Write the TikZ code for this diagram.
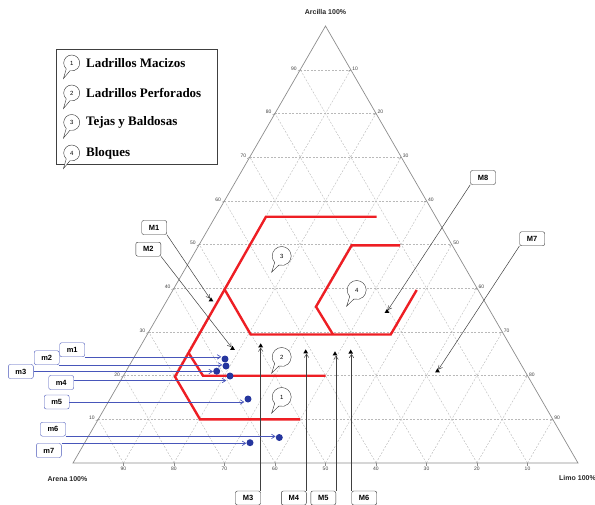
\documentclass[tikz,border=0pt]{standalone}
\usepackage{fontspec}
\setmainfont{Liberation Sans}
\newfontfamily\legfont{Liberation Serif}
\usetikzlibrary{calc,positioning,shapes.geometric,shapes.callouts,arrows.meta}
\definecolor{rojo}{RGB}{238,30,36}
\definecolor{azul}{RGB}{72,86,186}
\definecolor{azuloscuro}{RGB}{38,54,158}
\definecolor{rejilla}{RGB}{185,185,185}
\definecolor{eje}{RGB}{140,140,140}
\tikzset{
  reji/.style={rejilla,dash pattern=on 2pt off 1.5pt,line width=0.4pt},
  zona/.style={rojo,line width=2.4pt},
  caja/.style={draw=black!80,fill=white,rounded corners=2pt,minimum width=25pt,minimum height=14pt,inner sep=0pt,font=\bfseries\fontsize{7.5}{8}\selectfont},
  cajam/.style={caja,draw=azul},
  flecha/.style={-{Straight Barb[length=3.5pt,width=4.5pt]},black!75,line width=0.5pt},
  flechaz/.style={-{Straight Barb[length=3.5pt,width=4.5pt]},azul,line width=0.7pt},
  punto/.style={circle,fill=azuloscuro,inner sep=0pt,minimum size=7pt},
  marca/.style={regular polygon,regular polygon sides=3,fill=black,inner sep=0pt,minimum size=5.5pt},
  globo/.style={ellipse callout,draw=black!80,fill=white,inner sep=0pt,minimum width=19pt,minimum height=19pt,callout pointer arc=30,callout relative pointer={(-5pt,-8pt)},font=\fontsize{6}{6}\selectfont},
  globoley/.style={globo,minimum width=16pt,minimum height=16pt,callout relative pointer={(-4.5pt,-8.5pt)}},
  leg/.style={inner sep=0pt,font=\legfont\bfseries\fontsize{13}{15}\selectfont},
  tick/.style={inner sep=0.8pt,text=black!75,font=\fontsize{5}{5}\selectfont},
  titulo/.style={inner sep=0pt,text=black!85,font=\bfseries\fontsize{7}{8}\selectfont}
}
\begin{document}
\begin{tikzpicture}[x=1pt,y=-1pt]
\useasboundingbox (0,0) rectangle (595,504);
\coordinate (A) at (73,463);
\coordinate (B) at (578,463);
\coordinate (C) at (325.5,26);
\foreach \k in {1,...,9}
{
\draw[reji] ($(A)!\k/10!(C)$) -- ($(B)!\k/10!(C)$);
\draw[reji] ($(A)!\k/10!(B)$) -- ($(C)!\k/10!(B)$);
\draw[reji] ($(B)!\k/10!(A)$) -- ($(C)!\k/10!(A)$);
\pgfmathtruncatemacro\v{10*\k}
\pgfmathtruncatemacro\w{100-10*\k}
\draw[eje,line width=0.4pt] ($(A)!\k/10!(C)$) -- ++(-2.5,1.5) node[tick,anchor=south east]{\v};
\draw[eje,line width=0.4pt] ($(B)!\k/10!(C)$) -- ++(-2.5,1.5) node[tick,anchor=south west,xshift=3pt]{\w};
\draw[eje,line width=0.4pt] ($(A)!\k/10!(B)$) -- ++(0,3) node[tick,anchor=north]{\w};
}
\draw[eje,line width=0.7pt] (A) -- (B) -- (C) -- cycle;
\node[titulo] (arcilla) at (325.5,12) {Arcilla 100\%};
\node[titulo] (arena) at (67.5,479) {Arena 100\%};
\node[titulo,anchor=west] (limo) at (559,478) {Limo 100\%};

\draw[zona] (376.7,216.7) -- (266,216.7) -- (175,376.7) -- (200,419.3) -- (300,419.3);
\draw[zona] (224.5,289.3) -- (250.7,334.5) -- (390.7,334.5) -- (416.7,290);
\draw[zona] (400,245.3) -- (351.7,245.3) -- (316,306.7) -- (333,334.5);
\draw[zona] (188.5,352.7) -- (203,375.7) -- (325.7,375.7);

\node[globo] (z1) at (281.7,397) {1};
\node[globo] (z2) at (281.7,357) {2};
\node[globo] (z3) at (281.7,256) {3};
\node[globo] (z4) at (356.7,290) {4};

\draw[black!75,line width=0.6pt] (56,49) rectangle (217,164);
\node[globoley] (g1) at (71.7,63) {1};
\node[globoley] (g2) at (71.7,93) {2};
\node[globoley] (g3) at (71.7,122.5) {3};
\node[globoley] (g4) at (71.7,153) {4};
\node[leg,right=6pt of g1] (l1) {Ladrillos Macizos};
\node[leg,right=6pt of g2] (l2) {Ladrillos Perforados};
\node[leg,right=6pt of g3] (l3) {Tejas y Baldosas};
\node[leg,right=6pt of g4] (l4) {Bloques};

\node[marca] (t1) at (211,300) {};
\node[marca] (t2) at (232.5,348.5) {};
\node[marca] (t3) at (260.7,346) {};
\node[marca] (t4) at (305.7,352) {};
\node[marca] (t5) at (335,354) {};
\node[marca] (t6) at (350.7,352.3) {};
\node[marca] (t7) at (437.5,371) {};
\node[marca] (t8) at (387,311.5) {};
\node[caja] (M1) at (154.2,227.5) {M1};
\node[caja] (M2) at (148.3,249.2) {M2};
\node[caja] (M3) at (248,498) {M3};
\node[caja] (M4) at (293.8,498) {M4};
\node[caja] (M5) at (323.3,498) {M5};
\node[caja] (M6) at (364.2,498) {M6};
\node[caja] (M7) at (532.2,238.7) {M7};
\node[caja] (M8) at (483,177.5) {M8};
\draw[flecha] (M1.south east) -- (t1);
\draw[flecha] (M2.south east) -- (t2);
\draw[flecha] (M3.north east) -- (M3.north east |- t3.south);
\draw[flecha] (M4.north east) -- (M4.north east |- t4.south);
\draw[flecha] (M5.north east) -- (M5.north east |- t5.south);
\draw[flecha] (M6.north west) -- (M6.north west |- t6.south);
\draw[flecha] (M7.south west) -- (t7);
\draw[flecha] (M8.south west) -- (t8);

\node[punto] (d1) at (225,359) {};
\node[punto] (d2) at (226,366) {};
\node[punto] (d3) at (216.7,371.2) {};
\node[punto] (d4) at (230,376) {};
\node[punto] (d5) at (248,399) {};
\node[punto] (d6) at (279.3,437.5) {};
\node[punto] (d7) at (250,442.7) {};
\node[cajam] (m1) at (72.2,349.7) {m1};
\node[cajam] (m2) at (46.7,357.7) {m2};
\node[cajam] (m3) at (20.8,371.5) {m3};
\node[cajam] (m4) at (61.2,382.5) {m4};
\node[cajam] (m5) at (56.7,402) {m5};
\node[cajam] (m6) at (53,429.2) {m6};
\node[cajam] (m7) at (48.8,450.5) {m7};
\draw[flechaz] (m1.south east) -- (m1.south east -| d1.west);
\draw[flechaz] (m2.south east) -- (m2.south east -| d2.west);
\draw[flechaz] (m3.east) -- (m3.east -| d3.west);
\draw[flechaz] ($(m4.east)+(0,-2)$) -- ($(m4.east -| d4.west)+(0,-2)$);
\draw[flechaz] (m5.east) -- (m5.east -| d5.west);
\draw[flechaz] (m6.south east) -- (m6.south east -| d6.west);
\draw[flechaz] (m7.north east) -- (m7.north east -| d7.west);
\end{tikzpicture}
\end{document}
